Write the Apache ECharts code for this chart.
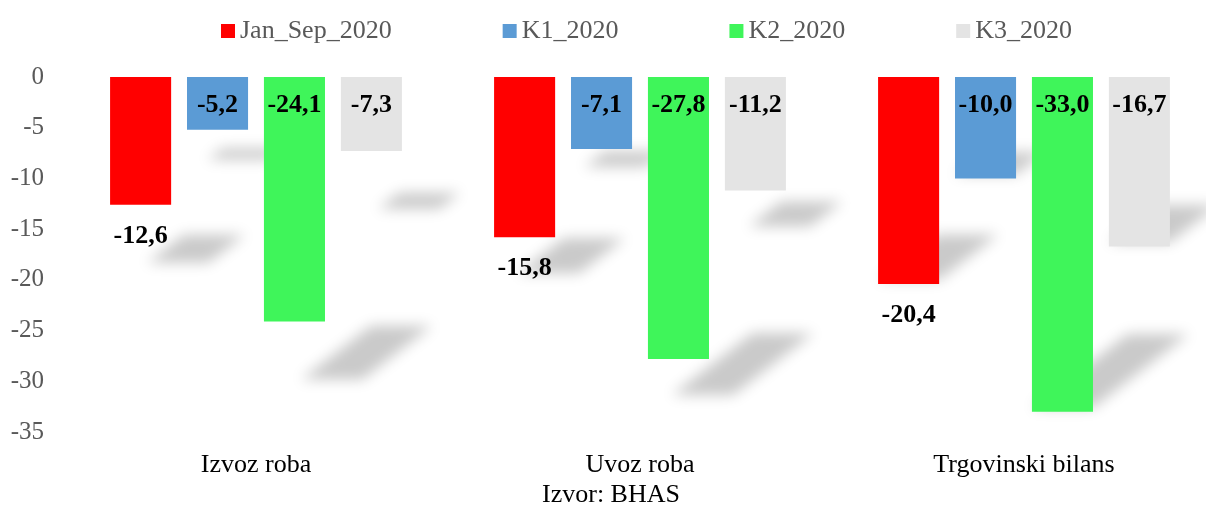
<!DOCTYPE html>
<html>
<head>
<meta charset="utf-8">
<style>
html,body{margin:0;padding:0;background:#fff;}
#chart{width:1206px;height:507px;}
</style>
<script src="https://cdn.jsdelivr.net/npm/echarts@6/dist/echarts.min.js"></script>
</head>
<body>
<div id="chart"></div>
<script>
// ---- data ----
const categories = ['Izvoz roba', 'Uvoz roba', 'Trgovinski bilans'];
const seriesNames = ['Jan_Sep_2020', 'K1_2020', 'K2_2020', 'K3_2020'];
const janSep2020 = [-12.6, -15.8, -20.4];
const k1_2020 = [-5.2, -7.1, -10.0];
const k2_2020 = [-24.1, -27.8, -33.0];
const k3_2020 = [-7.3, -11.2, -16.7];
const yTicks = [0, -5, -10, -15, -20, -25, -30, -35];
const sourceText = 'Izvor: BHAS';

// ---- style ----
const FONT = '"Liberation Serif", "Times New Roman", serif';
const colors = ['#FF0000', '#5B9BD5', '#3FF55A', '#E4E4E4'];
const BAR_GAP = 0.26, CAT_GAP = 0.24;
const SHADOW_DY = [62, 40, 0]; // decorative shadow offset per group (px)

const valuesList = [janSep2020, k1_2020, k2_2020, k3_2020];
const fmt = v => v.toFixed(1).replace('.', ',');

const barSeries = seriesNames.map((name, s) => ({
  name,
  type: 'bar',
  data: valuesList[s],
  z: 3,
  barGap: (BAR_GAP * 100) + '%',
  barCategoryGap: (CAT_GAP * 100) + '%',
  itemStyle: { color: colors[s] },
  label: {
    show: true,
    position: s === 0 ? 'bottom' : 'insideTop',
    distance: s === 0 ? 18 : 15,
    formatter: p => fmt(p.value),
    fontFamily: FONT,
    fontWeight: 'bold',
    fontSize: 26,
    color: '#000'
  }
}));

const shadowData = [];
categories.forEach((c, i) => valuesList.forEach((vals, s) => shadowData.push([i, vals[i], s])));

const OFF = 3000;
const shadowSeries = {
  type: 'custom',
  silent: true,
  z: 1,
  clip: false,
  data: shadowData,
  renderItem: function (params, api) {
    const ci = api.value(0), v = api.value(1), s = api.value(2);
    const base = api.coord([ci, 0]);
    const end = api.coord([ci, v]);
    const band = api.size([1, 0])[0];
    const n = valuesList.length;
    const w = (band - band * CAT_GAP) / (n + (n - 1) * BAR_GAP);
    const total = n * w + (n - 1) * w * BAR_GAP;
    const x0 = base[0] - total / 2 + s * w * (1 + BAR_GAP);
    const x1 = x0 + w;
    const h = end[1] - base[1];
    const dy = SHADOW_DY[ci] * (s === 1 ? 0.55 : 1);
    const dx = dy * 0.6;
    const sh = 0.22 * h;
    const skew = 1.3 * sh;
    const yb = end[1] + dy - 4;
    const yt = yb - sh;
    const pts = [
      [x0 + dx - OFF, yb], [x1 + dx - OFF, yb],
      [x1 + dx + skew - OFF, yt], [x0 + dx + skew - OFF, yt]
    ];
    return {
      type: 'polygon',
      shape: { points: pts },
      style: {
        fill: '#000',
        shadowColor: 'rgba(0,0,0,0.21)',
        shadowBlur: 14,
        shadowOffsetX: OFF,
        shadowOffsetY: 0
      }
    };
  }
};

const chart = echarts.init(document.getElementById('chart'), null, { renderer: 'canvas' });
chart.setOption({
  animation: false,
  backgroundColor: '#fff',
  textStyle: { fontFamily: FONT },
  legend: {
    data: seriesNames,
    left: 216,
    top: 13,
    icon: 'rect',
    itemWidth: 14,
    itemHeight: 14,
    itemGap: 111,
    textStyle: { color: '#595959', fontSize: 26, fontFamily: FONT }
  },
  grid: {
    left: 64, right: -10, top: 77, bottom: 75,
    containLabel: false,
    outerBoundsMode: 'none'
  },
  xAxis: {
    type: 'category',
    data: categories,
    axisLine: { show: false },
    axisTick: { show: false },
    splitLine: { show: false },
    axisLabel: { color: '#000', fontSize: 26, fontFamily: FONT, margin: 20 }
  },
  yAxis: {
    type: 'value',
    min: yTicks[yTicks.length - 1],
    max: yTicks[0],
    interval: 5,
    axisLine: { show: false },
    axisTick: { show: false },
    splitLine: { show: false },
    axisLabel: { color: '#595959', fontSize: 25, fontFamily: FONT, margin: 20 }
  },
  graphic: [{
    type: 'text',
    x: 611,
    y: 495,
    style: {
      text: sourceText,
      fill: '#000',
      font: '26px ' + FONT,
      textAlign: 'center',
      textVerticalAlign: 'middle'
    }
  }],
  series: [shadowSeries].concat(barSeries)
});
</script>
</body>
</html>
